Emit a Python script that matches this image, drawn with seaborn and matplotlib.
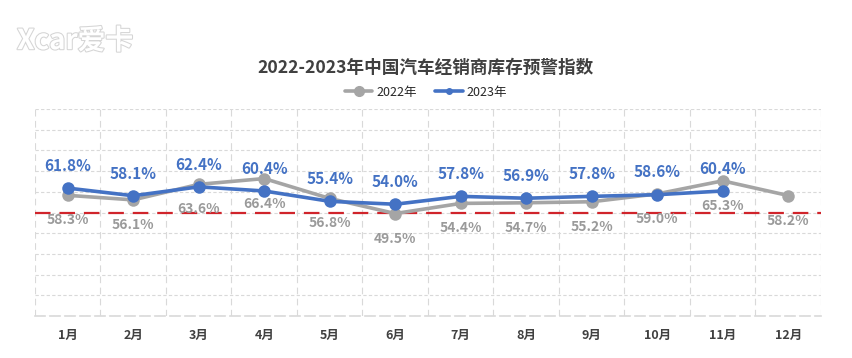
import numpy as np
import pandas as pd
import matplotlib
matplotlib.use("Agg")
import matplotlib.pyplot as plt
import matplotlib.patheffects as pe
from matplotlib.lines import Line2D
import seaborn as sns

months = ["1月", "2月", "3月", "4月", "5月", "6月", "7月", "8月", "9月", "10月", "11月", "12月"]
vals_2022 = [58.3, 56.1, 63.6, 66.4, 56.8, 49.5, 54.4, 54.7, 55.2, 59.0, 65.3, 58.2]
vals_2023 = [61.8, 58.1, 62.4, 60.4, 55.4, 54.0, 57.8, 56.9, 57.8, 58.6, 60.4]
warn_line = 50

sns.set_theme(style="white")
plt.rcParams['font.family'] = ['Noto Sans CJK SC', 'DejaVu Sans']

df = pd.DataFrame({
    "x": list(range(12)) + list(range(11)),
    "v": vals_2022 + vals_2023,
    "year": ["2022年"] * 12 + ["2023年"] * 11,
})

gray = "#A5A5A5"
blue = "#4472C4"

fig = plt.figure(figsize=(8.52, 3.58), dpi=100)
ax = fig.add_axes([0.041, 0.1173, 0.9226, 0.5782])

sns.lineplot(data=df, x="x", y="v", hue="year", palette={"2022年": gray, "2023年": blue},
             marker="o", markersize=9, markeredgewidth=0, linewidth=2.6, ax=ax, legend=False)

ax.axhline(warn_line, color="#D0242B", lw=1.6, dashes=(7, 4), zorder=1)

# data labels: 2022 below, 2023 above
for i, v in enumerate(vals_2022):
    ax.annotate(f"{v:.1f}%", (i, v), xytext=(0, -18), textcoords="offset points",
                ha="center", va="center", color="#9A9A9A", fontsize=10, fontweight="bold")
for i, v in enumerate(vals_2023):
    ax.annotate(f"{v:.1f}%", (i, v), xytext=(0, 16), textcoords="offset points",
                ha="center", va="center", color=blue, fontsize=11, fontweight="bold")

ax.set_xlim(-0.5, 11.5)
ax.set_ylim(0, 100)
ax.set_xticks(range(12))
ax.set_xticklabels(months, fontsize=9, fontweight="bold", color="#404040")
ax.set_xticks(np.arange(-0.5, 12, 1), minor=True)
ax.set_yticks(np.arange(0, 101, 10))
ax.set_yticklabels([])
ax.tick_params(axis="x", which="both", length=0, pad=9)
ax.tick_params(axis="y", length=0)
ax.grid(axis="y", which="major", color="#D9D9D9", lw=0.8, dashes=(3, 2))
ax.grid(axis="x", which="minor", color="#D9D9D9", lw=0.8, dashes=(6, 4))
ax.grid(axis="x", which="major", visible=False)
ax.set_xlabel("")
ax.set_ylabel("")
for s in ["top", "right", "left"]:
    ax.spines[s].set_visible(False)
ax.spines["bottom"].set_color("#D9D9D9")
ax.spines["bottom"].set_linestyle((0, (6, 3)))
ax.spines["bottom"].set_linewidth(1.2)

fig.text(0.5, 0.81, "2022-2023年中国汽车经销商库存预警指数", ha="center", va="center",
         fontsize=12.7, fontweight="bold", color="#404040")

handles = [Line2D([], [], color=gray, lw=2.6, marker="o", markersize=7),
           Line2D([], [], color=blue, lw=2.6, marker="o", markersize=4)]
fig.legend(handles, ["2022年", "2023年"], loc="center", bbox_to_anchor=(0.5, 0.742), ncol=2,
           frameon=False, handlelength=2.2, handletextpad=0.3, columnspacing=1.5,
           prop={'family': ['Noto Sans CJK SC', 'DejaVu Sans'], 'size': 9})

# watermark
fig.text(0.02, 0.885, "Xcar爱卡", ha="left", va="center", fontsize=20, fontweight="bold",
         color="white", style="italic",
         path_effects=[pe.withStroke(linewidth=1.5, foreground="#D5D5D5")])

fig.savefig("out.png", dpi=100)
